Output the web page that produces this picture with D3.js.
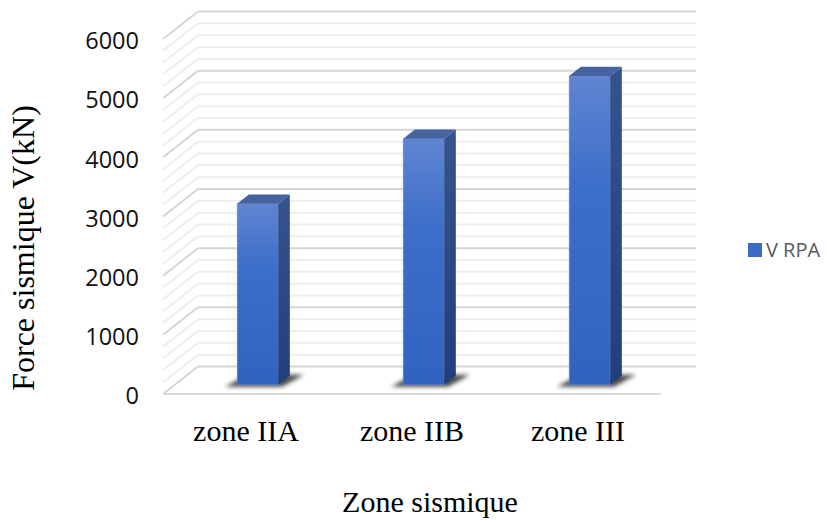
<!DOCTYPE html>
<html>
<head>
<meta charset="utf-8">
<script src="https://cdn.jsdelivr.net/npm/d3@7"></script>
<style>
  body { margin: 0; background: #fff; }
  svg { display: block; }
</style>
</head>
<body>
<div id="chart"></div>
<script>
const categories = ["zone IIA", "zone IIB", "zone III"];
const values = [3060, 4160, 5220];
const seriesName = "V RPA";
const yTicks = [0, 1000, 2000, 3000, 4000, 5000, 6000];
const yMax = 6000;

const width = 827, height = 523;

// front plane of the 3d box and the depth offset to the back wall
const x0 = 163, x1 = 661, yBase = 394, plotH = 355;
const dx = 35, dy = -27.5;

const svg = d3.select("#chart")
    .append("svg")
    .attr("width", width)
    .attr("height", height);

const defs = svg.append("defs");

const front = defs.append("linearGradient")
    .attr("id", "frontGrad")
    .attr("x1", 0).attr("y1", 0).attr("x2", 0).attr("y2", 1);
front.append("stop").attr("offset", "0%").attr("stop-color", "#5f85d1");
front.append("stop").attr("offset", "35%").attr("stop-color", "#3d6ec9");
front.append("stop").attr("offset", "100%").attr("stop-color", "#3063c0");

const side = defs.append("linearGradient")
    .attr("id", "sideGrad")
    .attr("x1", 0).attr("y1", 0).attr("x2", 0).attr("y2", 1);
side.append("stop").attr("offset", "0%").attr("stop-color", "#34538f");
side.append("stop").attr("offset", "100%").attr("stop-color", "#213f7c");

defs.append("filter")
    .attr("id", "blur")
    .attr("x", "-50%").attr("y", "-50%").attr("width", "200%").attr("height", "200%")
    .append("feGaussianBlur")
    .attr("stdDeviation", 2);

const x = d3.scaleBand()
    .domain(categories)
    .range([x0, x1])
    .paddingInner(0.753)
    .paddingOuter(0.3765);

const y = d3.scaleLinear()
    .domain([0, yMax])
    .range([yBase, yBase - plotH]);

const grid = svg.append("g");

// gridlines on back wall + side wall, minor every 200
const gridVals = d3.range(0, yMax + 1, 200);
gridVals.forEach(v => {
    const major = v % 1000 === 0;
    const col = major ? "#d6d6d6" : "#eeeeee";
    grid.append("line")
        .attr("x1", x0 + dx).attr("x2", x1 + dx)
        .attr("y1", y(v) + dy).attr("y2", y(v) + dy)
        .attr("stroke", col)
        .attr("stroke-width", 2);
    grid.append("line")
        .attr("x1", x0).attr("x2", x0 + dx)
        .attr("y1", y(v)).attr("y2", y(v) + dy)
        .attr("stroke", col)
        .attr("stroke-width", 2);
});

// floor front edge
grid.append("line")
    .attr("x1", x0).attr("x2", x1)
    .attr("y1", yBase).attr("y2", yBase)
    .attr("stroke", "#d9d9d9")
    .attr("stroke-width", 2);

// bars sit in the middle third of the depth
const f0 = 1 / 3, f1 = 2 / 3;
const bars = svg.append("g");

categories.forEach((c, i) => {
    const bx = x(c) + dx * f0;
    const by = dy * f0;
    const w = x.bandwidth();
    const ddx = dx * (f1 - f0), ddy = dy * (f1 - f0);
    const top = y(values[i]) + by;
    const bot = y(0) + by;

    // shadow on the floor
    bars.append("path")
        .attr("d", `M${bx - 12},${bot + 2} L${bx + w + 4},${bot + 2} L${bx + w + ddx + 14},${bot + ddy - 1} L${bx + ddx - 2},${bot + ddy - 1} Z`)
        .attr("fill", "#2a2a2a")
        .attr("opacity", 0.85)
        .attr("filter", "url(#blur)");

    bars.append("rect")
        .attr("x", bx).attr("y", top)
        .attr("width", w).attr("height", bot - top)
        .attr("fill", "url(#frontGrad)")
        .attr("stroke", "#6f90d6")
        .attr("stroke-width", 0.6);

    bars.append("path")
        .attr("d", `M${bx + w},${top} L${bx + w + ddx},${top + ddy} L${bx + w + ddx},${bot + ddy} L${bx + w},${bot} Z`)
        .attr("fill", "url(#sideGrad)");

    bars.append("path")
        .attr("d", `M${bx},${top} L${bx + ddx},${top + ddy} L${bx + w + ddx},${top + ddy} L${bx + w},${top} Z`)
        .attr("fill", "#46639f");
});

// y axis labels
svg.append("g")
    .selectAll("text")
    .data(yTicks)
    .enter()
    .append("text")
    .attr("x", 139)
    .attr("y", d => y(d) + 2)
    .attr("dy", "0.35em")
    .attr("text-anchor", "end")
    .attr("font-family", "'Open Sans', 'Noto Sans', sans-serif")
    .attr("font-size", 23.5)
    .attr("fill", "#111")
    .text(d => d);

// category labels
svg.append("g")
    .selectAll("text")
    .data(categories)
    .enter()
    .append("text")
    .attr("x", d => x(d) + x.bandwidth() / 2)
    .attr("y", 441)
    .attr("text-anchor", "middle")
    .attr("font-family", "'Liberation Serif', 'DejaVu Serif', serif")
    .attr("font-size", 30)
    .attr("fill", "#000")
    .text(d => d);

svg.append("text")
    .attr("x", 430)
    .attr("y", 512)
    .attr("text-anchor", "middle")
    .attr("font-family", "'Liberation Serif', serif")
    .attr("font-size", 30)
    .text("Zone sismique");

svg.append("text")
    .attr("transform", "translate(34,248) rotate(-90)")
    .attr("text-anchor", "middle")
    .attr("font-family", "'Liberation Serif', serif")
    .attr("font-size", 32)
    .text("Force sismique V(kN)");

// legend
const legend = svg.append("g").attr("transform", "translate(748,243)");
legend.append("rect")
    .attr("width", 14).attr("height", 14)
    .attr("fill", "#3a6bc6");
legend.append("text")
    .attr("x", 18).attr("y", 7)
    .attr("dy", "0.35em")
    .attr("font-family", "'Open Sans', sans-serif")
    .attr("font-size", 20)
    .attr("fill", "#595959")
    .text(seriesName);
</script>
</body>
</html>
